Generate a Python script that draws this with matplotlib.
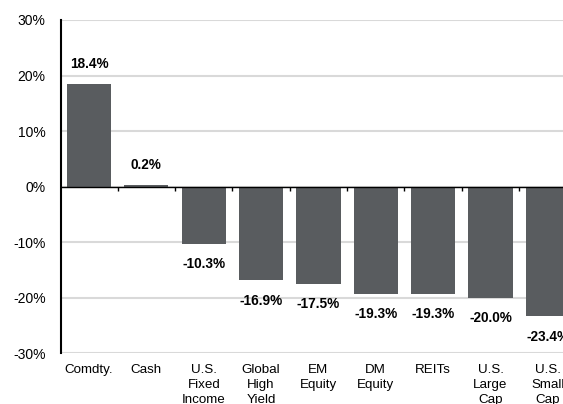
import numpy as np
import matplotlib
matplotlib.use('Agg')
import matplotlib.pyplot as plt

# data
categories = ['Comdty.', 'Cash', 'U.S.\nFixed\nIncome', 'Global\nHigh\nYield',
              'EM\nEquity', 'DM\nEquity', 'REITs', 'U.S.\nLarge\nCap',
              'U.S.\nSmall\nCap']
returns = [18.4, 0.2, -10.3, -16.9, -17.5, -19.3, -19.3, -20.0, -23.4]
y_ticks = [-30, -20, -10, 0, 10, 20, 30]

plt.rcParams['font.family'] = ['Liberation Sans', 'DejaVu Sans']

fig = plt.figure(figsize=(5.63, 4.04), dpi=100)
# axes runs past the right edge so the last bar is cut, like the reference
ax = fig.add_axes([0.1083, 0.1262, 0.9147, 0.8243])

x = np.arange(len(categories))
ax.bar(x, returns, width=0.77, color='#595c5f', zorder=3)

# value labels
for xi, v in zip(x, returns):
    off = 3.7 if v >= 0 else -3.7
    ax.text(xi, v + off, f'{v:.1f}%', ha='center', va='center',
            fontsize=9.8, fontweight='bold', color='black')

ax.set_ylim(-30, 30)
ax.set_xlim(-0.49, len(categories) - 0.51)
ax.set_yticks(y_ticks)
ax.set_yticklabels([f'{t}%' for t in y_ticks], fontsize=10)
ax.yaxis.grid(True, color='#d9d9d9', linewidth=1.5, zorder=0)
ax.tick_params(axis='y', length=0, pad=11)

ax.set_xticks(x)
ax.set_xticklabels(categories, fontsize=9.6, linespacing=1.3)
ax.tick_params(axis='x', length=0, pad=8)

# zero line with little ticks between categories
ax.axhline(0, color='black', linewidth=1, zorder=4)
ax.vlines(np.arange(0.5, len(categories) - 0.5), -0.75, 0, color='black',
          linewidth=1, zorder=4)

for s in ['top', 'right', 'bottom']:
    ax.spines[s].set_visible(False)
ax.spines['left'].set_color('black')
ax.spines['left'].set_linewidth(1.5)
ax.spines['left'].set_zorder(5)

fig.savefig('out.png', dpi=100)
